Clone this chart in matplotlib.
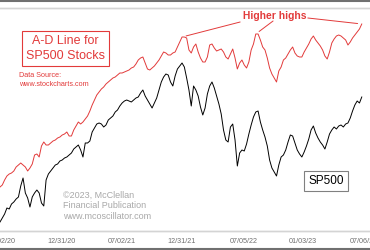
import matplotlib
matplotlib.use('Agg')
import matplotlib.pyplot as plt
import matplotlib.dates as mdates
from matplotlib.lines import Line2D
import pandas as pd

plt.rcParams['font.family'] = ['Liberation Sans', 'DejaVu Sans']

RED = '#e23a3a'

# weekly closes, starting 2020-06-26
sp500 = [3230, 3270, 3310, 3370, 3360, 3410, 3430, 3460, 3480, 3590,
         3670, 3520, 3470, 3380, 3480, 3520, 3550, 3520, 3420, 3390,
         3650, 3710, 3740, 3770, 3800, 3810, 3840, 3850, 3870, 3880,
         3900, 3920, 3960, 3980, 4000, 3950, 3880, 4020, 4020, 4040,
         4130, 4170, 4210, 4220, 4210, 4180, 4200, 4250, 4270, 4290,
         4330, 4350, 4390, 4420, 4440, 4450, 4440, 4430, 4450, 4470,
         4480, 4520, 4550, 4490, 4450, 4410, 4370, 4420, 4470, 4550,
         4630, 4680, 4710, 4700, 4630, 4590, 4690, 4760, 4790, 4820,
         4780, 4670, 4550, 4390, 4590, 4550, 4490, 4380, 4300, 4370,
         4510, 4590, 4630, 4570, 4490, 4410, 4310, 4150, 4050, 4030,
         4180, 4210, 4050, 3790, 3920, 3950, 3940, 4010, 4110, 4200,
         4280, 4330, 4340, 4230, 4150, 4080, 3990, 3850, 3770, 3730,
         3690, 3800, 3880, 3900, 3950, 4030, 4100, 4090, 4020, 3950,
         3910, 3880, 3930, 3990, 4060, 4150, 4190, 4120, 4070, 4030,
         4000, 3960, 4030, 4110, 4150, 4180, 4160, 4190, 4200, 4180,
         4210, 4220, 4270, 4340, 4400, 4440, 4420, 4480]

ad_line = [1130, 1150, 1200, 1240, 1260, 1270, 1290, 1330, 1350, 1370,
           1350, 1330, 1290, 1320, 1360, 1450, 1460, 1430, 1540, 1580,
           1550, 1550, 1570, 1590, 1600, 1620, 1630, 1650, 1660, 1680,
           1640, 1640, 1700, 1740, 1780, 1760, 1780, 1810, 1840, 1890,
           1950, 2000, 2050, 2080, 2110, 2130, 2160, 2180, 2200, 2220,
           2230, 2250, 2270, 2270, 2280, 2290, 2300, 2320, 2330, 2360,
           2400, 2420, 2430, 2370, 2310, 2300, 2320, 2340, 2370, 2400,
           2440, 2480, 2470, 2450, 2450, 2470, 2480, 2530, 2580, 2630,
           2630, 2620, 2500, 2470, 2530, 2560, 2480, 2420, 2380, 2380,
           2430, 2550, 2560, 2520, 2490, 2500, 2510, 2480, 2430, 2410,
           2460, 2510, 2420, 2310, 2370, 2400, 2350, 2320, 2380, 2500,
           2560, 2660, 2660, 2600, 2530, 2500, 2420, 2320, 2260, 2220,
           2180, 2290, 2330, 2400, 2420, 2460, 2500, 2530, 2470, 2440,
           2430, 2430, 2480, 2520, 2560, 2610, 2640, 2600, 2570, 2540,
           2500, 2440, 2410, 2480, 2570, 2610, 2640, 2650, 2640, 2620,
           2600, 2550, 2580, 2620, 2650, 2680, 2710, 2760]

tick_dates = ['2020-07-02', '2020-12-31', '2021-07-02', '2021-12-31',
              '2022-07-05', '2023-01-03', '2023-07-06']

sp_dates = pd.date_range('2020-06-26', periods=len(sp500), freq='7D')
ad_dates = pd.date_range('2020-06-26', periods=len(ad_line), freq='7D')

fig = plt.figure(figsize=(3.7, 2.5), dpi=100)
ax = fig.add_axes([0, 0.076, 1, 0.892])
ax2 = ax.twinx()

ax.plot(sp_dates, sp500, color='black', linewidth=0.7)
ax2.plot(ad_dates, ad_line, color=RED, linewidth=0.7)

ax.set_xlim(pd.Timestamp('2020-06-26'), pd.Timestamp('2023-07-25'))
ax.set_ylim(3140, 5370)
ax2.set_ylim(690, 2920)

ticks = pd.to_datetime(tick_dates)
ax.set_xticks(ticks)
ax.set_xticklabels([t.strftime('%m/%d/%y') for t in ticks])
ax.tick_params(axis='x', length=0, pad=5, labelsize=5.2, labelcolor='#707070')
for a in (ax, ax2):
    a.set_yticks([])
    for s in ('left', 'right'):
        a.spines[s].set_visible(False)
    for s in ('top', 'bottom'):
        a.spines[s].set_color('#d4d4d4')
        a.spines[s].set_linewidth(1.0)

# outer frame lines of the picture
fig.add_artist(Line2D([0, 1], [0.997, 0.997], transform=fig.transFigure,
                      color='#707070', linewidth=1.5))
fig.add_artist(Line2D([0, 1], [0.005, 0.005], transform=fig.transFigure,
                      color='#707070', linewidth=1.5))

fig.text(0.177, 0.806, 'A-D Line for\nSP500 Stocks', color=RED, fontsize=9,
         ha='center', va='center', linespacing=1.25,
         bbox=dict(boxstyle='square,pad=0.35', fc='white', ec=RED, lw=0.8))
fig.text(0.051, 0.712, 'Data Source:\nwww.stockcharts.com', color=RED,
         fontsize=5.2, ha='left', va='top', linespacing=1.3)

fig.text(0.743, 0.936, 'Higher highs', color=RED, fontsize=7.4,
         fontweight='bold', ha='center', va='center')
i1 = ad_line.index(max(ad_line[60:100]))
i2 = ad_line.index(max(ad_line[100:130]))
i3 = len(ad_line) - 1
for i, xt in ((i1, (0.649, 0.912)), (i2, (0.738, 0.916)), (i3, (0.832, 0.928))):
    ax2.annotate('', xy=(ad_dates[i], ad_line[i]), xytext=xt,
                 textcoords='figure fraction',
                 arrowprops=dict(arrowstyle='-', color=RED, lw=0.7,
                                 shrinkA=0, shrinkB=3))

fig.text(0.170, 0.236, '\u00a92023, McClellan\nFinancial Publication\nwww.mcoscillator.com',
         color='#a8a8a8', fontsize=6.5, ha='left', va='top', linespacing=1.2)

fig.text(0.882, 0.276, 'SP500', color='black', fontsize=8.5, ha='center',
         va='center',
         bbox=dict(boxstyle='square,pad=0.35', fc='white', ec='#808080', lw=0.8))

fig.savefig('out.png', dpi=100)
